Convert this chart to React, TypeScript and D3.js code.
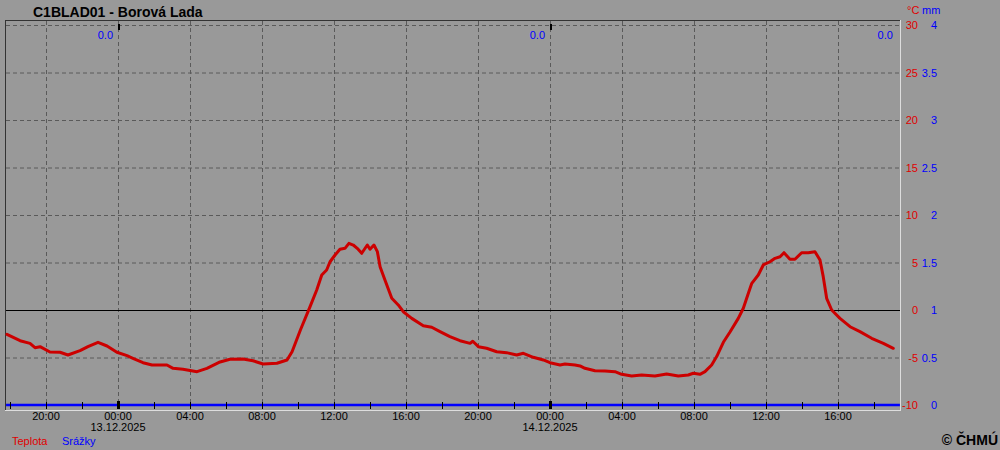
import React from "react";
import * as d3 from "d3";

// Hours relative to 13.12.2025 00:00
const TEMP_HOURS = [
  -6.17, -5.44, -4.89, -4.61, -4.33, -3.78, -3.22, -2.78, -2.11, -1.67, -1.11, -0.61, -0.06,
  0.5, 0.83, 1.39, 1.89, 2.72, 3.06, 3.61, 4.39, 4.94, 5.67, 6.22, 6.94, 7.5, 8.06, 8.83,
  9.39, 9.67, 10.15, 10.67, 11.04, 11.32, 11.59, 11.78, 12.06, 12.33, 12.61, 12.83, 13.07,
  13.29, 13.54, 13.85, 14.0, 14.22, 14.41, 14.56, 14.83, 15.21, 15.57, 15.85, 16.32, 16.96,
  17.43, 17.89, 18.44, 19.0, 19.56, 19.71, 20.02, 20.48, 21.04, 21.59, 22.15, 22.52, 23.07,
  23.63, 24.0, 24.56, 24.83, 25.39, 25.67, 25.94, 26.5, 27.06, 27.61, 27.98, 28.54, 29.09,
  29.83, 30.48, 31.13, 31.68, 31.96, 32.33, 32.61, 32.98, 33.26, 33.63, 34.0, 34.46, 34.74,
  35.02, 35.21, 35.57, 35.85, 36.22, 36.5, 36.78, 37.0, 37.33, 37.61, 37.98, 38.35, 38.72,
  39.0, 39.18, 39.37, 39.65, 40.11, 40.67, 41.22, 41.87, 42.52, 43.07,
];
const TEMP_VALUES = [
  -2.56, -3.23, -3.51, -3.97, -3.86, -4.42, -4.45, -4.74, -4.28, -3.86, -3.4, -3.79, -4.45,
  -4.81, -5.08, -5.55, -5.79, -5.79, -6.14, -6.24, -6.49, -6.14, -5.47, -5.19, -5.16, -5.34,
  -5.68, -5.61, -5.26, -4.39, -2.03, 0.35, 2.11, 3.68, 4.21, 5.08, 5.79, 6.39, 6.49, 7.02,
  6.84, 6.49, 5.97, 6.84, 6.39, 6.84, 6.14, 4.56, 3.16, 1.23, 0.53, -0.18, -0.88, -1.65,
  -1.82, -2.28, -2.81, -3.23, -3.51, -3.29, -3.86, -4.03, -4.39, -4.49, -4.74, -4.56, -4.98,
  -5.26, -5.55, -5.79, -5.68, -5.79, -5.89, -6.14, -6.39, -6.42, -6.49, -6.77, -6.95, -6.84,
  -6.95, -6.74, -6.95, -6.84, -6.66, -6.77, -6.49, -5.79, -4.9, -3.4, -2.32, -0.88, 0.18,
  1.76, 2.81, 3.68, 4.74, 5.08, 5.44, 5.61, 6.03, 5.34, 5.34, 6.03, 6.03, 6.14, 5.26, 3.51,
  1.23, 0.0, -0.88, -1.76, -2.28, -2.98, -3.51, -4.03,
];

const PRECIP_HOURS = [-6.22, 0, 6, 12, 18, 24, 30, 36, 43.44];
const PRECIP_VALUES = [0, 0, 0, 0, 0, 0, 0, 0, 0];

const DAILY_SUM_HOURS = [0, 24, 43.44];
const DAILY_SUM_LABELS = ["0.0", "0.0", "0.0"];

const X_TICK_HOURS = [-4, 0, 4, 8, 12, 16, 20, 24, 28, 32, 36, 40];
const X_TICK_LABELS = ["20:00", "00:00", "04:00", "08:00", "12:00", "16:00", "20:00", "00:00", "04:00", "08:00", "12:00", "16:00"];
const MINOR_TICK_HOURS = [-6, -4, -2, 0, 2, 4, 6, 8, 10, 12, 14, 16, 18, 20, 22, 24, 26, 28, 30, 32, 34, 36, 38, 40, 42];
const MIDNIGHT_HOURS = [0, 24];
const DATE_LABELS = ["13.12.2025", "14.12.2025"];

const TEMP_TICKS = [-10, -5, 0, 5, 10, 15, 20, 25, 30];
const PRECIP_TICKS = [0, 0.5, 1, 1.5, 2, 2.5, 3, 3.5, 4];

const TITLE = "C1BLAD01 - Borová Lada";

const BG = "#999999";
const RED = "#cc0000";
const RED_TXT = "#e00000";
const BLUE = "#0000ff";
const FONT = "'Liberation Sans', Arial, sans-serif";

export default function App() {
  const left = 6, right = 900, top = 20, bottom = 410;
  const x = d3.scaleLinear().domain([-112 / 18, 782 / 18]).range([left, right]);
  const yT = d3.scaleLinear().domain([-10, 30]).range([405, 25]);
  const yP = d3.scaleLinear().domain([0, 4]).range([405, 25]);

  const tempData = TEMP_HOURS.map((h, i) => [h, TEMP_VALUES[i]] as [number, number]);
  const precipData = PRECIP_HOURS.map((h, i) => [h, PRECIP_VALUES[i]] as [number, number]);

  const tempLine = d3.line<[number, number]>().x((d) => x(d[0])).y((d) => yT(d[1]));
  const precipLine = d3.line<[number, number]>().x((d) => x(d[0])).y((d) => yP(d[1]));

  return (
    <svg width={1000} height={450} style={{ position: "absolute", left: 0, top: 0, display: "block" }} fontFamily={FONT}>
      <rect x={0} y={0} width={1000} height={450} fill={BG} />
      <text x={33} y={16.5} fontSize={14} fontWeight="bold" fill="#000">{TITLE}</text>

      {/* horizontal grid */}
      {TEMP_TICKS.filter((t) => t !== 0 && t !== -10).map((t) => (
        <line key={"hg" + t} x1={left} x2={right} y1={yT(t) + 0.5} y2={yT(t) + 0.5} stroke="#5a5a5a" strokeDasharray="4,3" />
      ))}
      {/* vertical grid */}
      {X_TICK_HOURS.map((h) => (
        <line key={"vg" + h} x1={Math.round(x(h)) + 0.5} x2={Math.round(x(h)) + 0.5} y1={top + 1} y2={bottom - 1} stroke="#5a5a5a" strokeDasharray="4,3" />
      ))}
      {/* zero line */}
      <line x1={left} x2={right} y1={yT(0) + 0.5} y2={yT(0) + 0.5} stroke="#000" strokeWidth={1} />

      {/* frame */}
      <line x1={5} x2={right} y1={top + 0.5} y2={top + 0.5} stroke="#333" />
      <line x1={5.5} x2={5.5} y1={top} y2={bottom} stroke="#333" />
      <line x1={5} x2={right + 1} y1={bottom + 0.5} y2={bottom + 0.5} stroke="#dddddd" />
      <line x1={right + 0.5} x2={right + 0.5} y1={top} y2={bottom + 1} stroke="#dddddd" />

      {/* precipitation */}
      <path d={precipLine(precipData) || ""} fill="none" stroke={BLUE} strokeWidth={2.5} />

      {/* bottom ticks */}
      {MINOR_TICK_HOURS.map((h) => (
        <line key={"mt" + h} x1={Math.round(x(h)) + 0.5} x2={Math.round(x(h)) + 0.5} y1={402} y2={409} stroke="#000" />
      ))}
      {MIDNIGHT_HOURS.map((h) => (
        <rect key={"md" + h} x={Math.round(x(h)) - 1} y={401} width={3} height={8} fill="#000" />
      ))}
      {MIDNIGHT_HOURS.map((h) => (
        <rect key={"mtop" + h} x={Math.round(x(h))} y={24} width={2} height={6} fill="#000" />
      ))}

      {/* temperature */}
      <path d={tempLine(tempData) || ""} fill="none" stroke={RED} strokeWidth={3} strokeLinejoin="round" strokeLinecap="round" />

      {/* daily sums */}
      {DAILY_SUM_HOURS.map((h, i) => (
        <text key={"ds" + i} x={x(h) - (h === 0 || h === 24 ? 5 : 7)} y={39} fontSize={11} fill={BLUE} textAnchor="end">{DAILY_SUM_LABELS[i]}</text>
      ))}

      {/* x labels */}
      {X_TICK_HOURS.map((h, i) => (
        <text key={"xl" + i} x={x(h)} y={420} fontSize={11} fill="#000" textAnchor="middle">{X_TICK_LABELS[i]}</text>
      ))}
      {MIDNIGHT_HOURS.map((h, i) => (
        <text key={"dl" + i} x={x(h)} y={431} fontSize={11} fill="#000" textAnchor="middle">{DATE_LABELS[i]}</text>
      ))}

      {/* right axes */}
      <text x={907} y={14} fontSize={11} fill={RED_TXT}>°C</text>
      <text x={922} y={14} fontSize={11} fill={BLUE}>mm</text>
      {TEMP_TICKS.map((t) => (
        <text key={"yt" + t} x={918} y={yT(t) + 4} fontSize={11} fill={RED_TXT} textAnchor="end">{String(t)}</text>
      ))}
      {PRECIP_TICKS.map((p) => (
        <text key={"yp" + p} x={937} y={yP(p) + 4} fontSize={11} fill={BLUE} textAnchor="end">{String(p)}</text>
      ))}

      {/* legend */}
      <text x={12} y={445} fontSize={11} fill={RED_TXT}>Teplota</text>
      <text x={62} y={445} fontSize={11} fill={BLUE}>Srážky</text>
      <text x={998} y={445} fontSize={14} fontWeight="bold" fill="#000" textAnchor="end">© ČHMÚ</text>
    </svg>
  );
}
